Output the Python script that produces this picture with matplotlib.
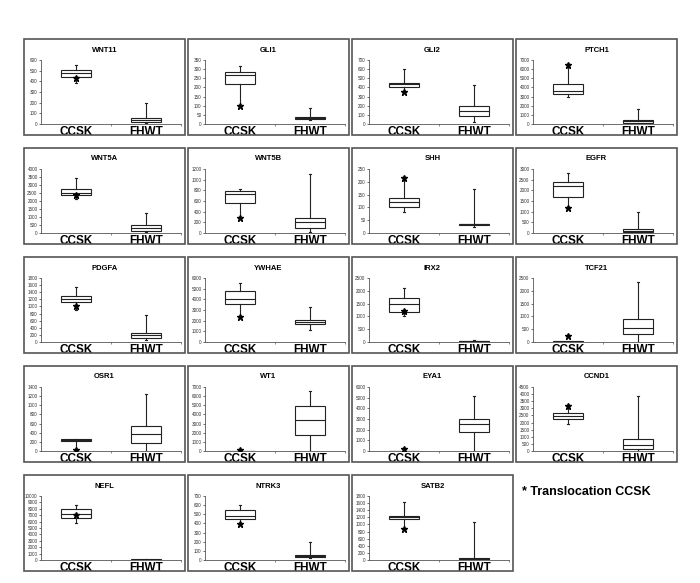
import matplotlib
matplotlib.use("Agg")
import matplotlib.pyplot as plt
from matplotlib.patches import Rectangle
import numpy as np

plt.rcParams['font.family'] = ['Liberation Sans', 'DejaVu Sans']

# gene panels, read row by row
genes = ['WNT11', 'GLI1', 'GLI2', 'PTCH1',
         'WNT5A', 'WNT5B', 'SHH', 'EGFR',
         'PDGFA', 'YWHAE', 'IRX2', 'TCF21',
         'OSR1', 'WT1', 'EYA1', 'CCND1',
         'NEFL', 'NTRK3', 'SATB2']

# y axis max and tick step per panel
y_max = [600, 350, 700, 7000,
         4000, 1200, 250, 3000,
         1800, 6000, 2500, 2500,
         1400, 7000, 6000, 4500,
         10000, 700, 1800]
y_step = [100, 50, 100, 1000,
          500, 200, 50, 500,
          200, 1000, 500, 500,
          200, 1000, 1000, 500,
          1000, 100, 200]

# box stats: (low whisker, q1, median, q3, high whisker)
ccsk_box = [(380, 440, 480, 510, 550), (100, 220, 270, 285, 315),
            (360, 400, 440, 450, 600), (3000, 3300, 3600, 4400, 6500),
            (2100, 2350, 2500, 2750, 3450), (280, 570, 730, 790, 830),
            (83, 103, 120, 135, 215), (1200, 1700, 2200, 2400, 2800),
            (900, 1120, 1200, 1280, 1550), (2300, 3550, 4000, 4750, 5500),
            (1020, 1180, 1470, 1730, 2100), (0, 5, 10, 20, 30),
            (30, 220, 240, 255, 260), (0, 5, 15, 30, 40),
            (0, 5, 20, 40, 60), (1900, 2250, 2450, 2650, 3200),
            (5800, 6500, 7200, 7900, 8600), (390, 450, 480, 550, 600),
            (880, 1150, 1220, 1250, 1640)]
fhwt_box = [(10, 20, 35, 60, 200), (20, 25, 32, 40, 85),
            (20, 85, 140, 200, 430), (0, 150, 300, 450, 1600),
            (50, 130, 300, 500, 1250), (20, 100, 200, 280, 1100),
            (25, 32, 34, 37, 170), (0, 30, 100, 170, 1000),
            (50, 120, 190, 250, 750), (1100, 1650, 1850, 2100, 3250),
            (0, 10, 20, 30, 80), (0, 300, 540, 880, 2350),
            (0, 170, 380, 540, 1240), (0, 1800, 3400, 4900, 6600),
            (0, 1750, 2550, 3000, 5200), (0, 150, 400, 850, 3850),
            (0, 20, 60, 150, 200), (20, 30, 40, 50, 195),
            (0, 10, 40, 70, 1060)]
# translocation CCSK sample
ccsk_star = [430, 100, 350, 6500, 2350, 280, 215, 1180, 1000, 2300,
             1200, 230, 30, 150, 150, 3150, 7100, 390, 870]

categories = ['CCSK', 'FHWT']

W, H = 700, 583
fig = plt.figure(figsize=(W / 100, H / 100), dpi=100)

col_x = [24, 188, 352, 516]
row_y = [39, 148, 257, 366, 475]
pw, ph = 161, 96

for i, gene in enumerate(genes):
    left = col_x[i % 4]
    top = row_y[i // 4]

    fig.patches.append(Rectangle((left / W, 1 - (top + ph) / H), pw / W, ph / H,
                                 transform=fig.transFigure, fill=False,
                                 ec='#555555', lw=1.2))
    fig.text((left + pw / 2) / W, 1 - (top + 11) / H, gene, fontsize=5.5,
             fontweight='bold', ha='center', va='center')

    ax = fig.add_axes([(left + 17) / W, 1 - (top + 85) / H, (pw - 21) / W, 64 / H])
    stats = []
    for b in (ccsk_box[i], fhwt_box[i]):
        stats.append(dict(whislo=b[0], q1=b[1], med=b[2], q3=b[3], whishi=b[4], fliers=[]))
    ax.bxp(stats, positions=[1, 2], widths=0.42, capwidths=0.04, patch_artist=True,
           boxprops=dict(facecolor='white', edgecolor='#222222', lw=0.8),
           medianprops=dict(color='#222222', lw=0.8),
           whiskerprops=dict(color='#222222', lw=0.8),
           capprops=dict(color='#222222', lw=0.8))
    ax.plot([1], [ccsk_star[i]], marker='*', color='black', ms=5, ls='none', zorder=5)

    ax.set_xlim(0.5, 2.5)
    ax.set_ylim(0, y_max[i])
    ax.set_yticks(np.arange(0, y_max[i] + 1, y_step[i]))
    ax.tick_params(axis='y', labelsize=3.3, length=1.5, width=0.5, pad=1, colors='#333333')
    ax.set_xticks([1, 2])
    ax.set_xticklabels(categories, fontsize=8.5, fontweight='bold')
    ax.tick_params(axis='x', length=0, pad=1.2)
    ax.set_xticks([1.5, 2.5], minor=True)
    ax.tick_params(axis='x', which='minor', length=1.5, width=0.5, colors='#555555')
    for s in ('top', 'right'):
        ax.spines[s].set_visible(False)
    for s in ('left', 'bottom'):
        ax.spines[s].set_color('#555555')
        ax.spines[s].set_linewidth(0.6)

fig.text(522 / W, 1 - 492 / H, '* Translocation CCSK', fontsize=9, fontweight='bold',
         ha='left', va='center')

fig.savefig('out.png', dpi=100)
